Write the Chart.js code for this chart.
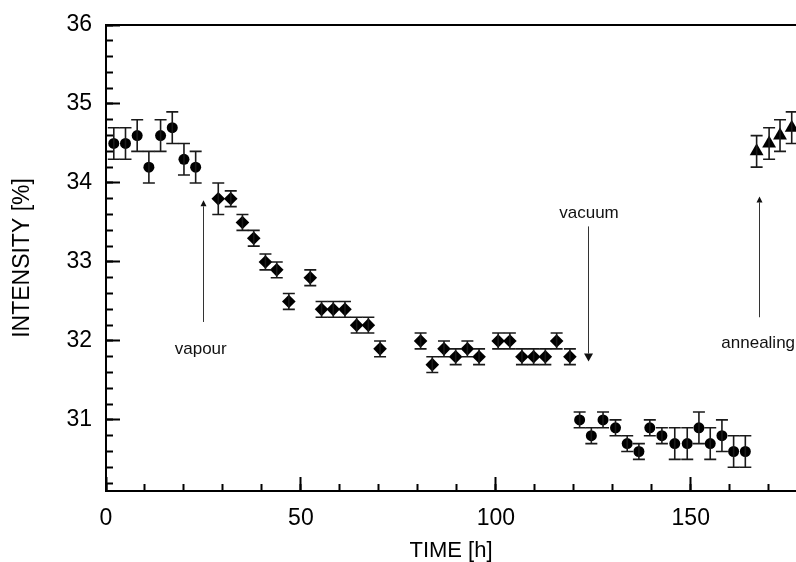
<!DOCTYPE html>
<html>
<head>
<meta charset="utf-8">
<title>Intensity vs time</title>
<script src="https://cdn.jsdelivr.net/npm/chart.js@4.4.1/dist/chart.umd.min.js"></script>
<style>
    html, body { margin: 0; padding: 0; background: #fff; }
    #grafik { display: block; }
</style>
</head>
<body>
<canvas id="grafik" width="796" height="562"></canvas>
<script>
// data: time [h], intensity [%], error (+/-)
const circleX1 = [2, 5, 8, 11, 14, 17, 20, 23];
const circleY1 = [34.5, 34.5, 34.6, 34.2, 34.6, 34.7, 34.3, 34.2];
const circleErr1 = [0.2, 0.2, 0.2, 0.2, 0.2, 0.2, 0.2, 0.2];

const diamondX = [28.8, 32, 35, 37.9, 40.9, 43.8, 46.9, 52.4, 55.3, 58.3, 61.3, 64.3, 67.3, 70.3,
    80.7, 83.7, 86.7, 89.7, 92.7, 95.7, 100.6, 103.6, 106.7, 109.7, 112.7, 115.6, 119];
const diamondY = [33.8, 33.8, 33.5, 33.3, 33.0, 32.9, 32.5, 32.8, 32.4, 32.4, 32.4, 32.2, 32.2, 31.9,
    32.0, 31.7, 31.9, 31.8, 31.9, 31.8, 32.0, 32.0, 31.8, 31.8, 31.8, 32.0, 31.8];
const diamondErr = [0.2, 0.1, 0.1, 0.1, 0.1, 0.1, 0.1, 0.1, 0.1, 0.1, 0.1, 0.1, 0.1, 0.1,
    0.1, 0.1, 0.1, 0.1, 0.1, 0.1, 0.1, 0.1, 0.1, 0.1, 0.1, 0.1, 0.1];

const circleX2 = [121.5, 124.5, 127.5, 130.7, 133.7, 136.7, 139.5, 142.6, 145.9, 149.1, 152.1, 155, 158, 161, 164];
const circleY2 = [31.0, 30.8, 31.0, 30.9, 30.7, 30.6, 30.9, 30.8, 30.7, 30.7, 30.9, 30.7, 30.8, 30.6, 30.6];
const circleErr2 = [0.1, 0.1, 0.1, 0.1, 0.1, 0.1, 0.1, 0.1, 0.2, 0.2, 0.2, 0.2, 0.2, 0.2, 0.2];

const triX = [166.9, 170.1, 172.9, 175.9];
const triY = [34.4, 34.5, 34.6, 34.7];
const triErr = [0.2, 0.2, 0.2, 0.2];

// arrows with their notes (in data units)
const noteText = ['vapour', 'vacuum', 'annealing'];
const noteArrowX = [24.8, 123.7, 167.5];
const noteArrowFrom = [32.24, 33.45, 32.3];
const noteArrowTo = [33.78, 31.74, 33.83];
const noteLabelX = [24.3, 123.9, 167.3];
const noteLabelY = [31.89, 33.61, 31.97];

const FONT = '"Liberation Sans", Arial, sans-serif';

function toPoints(xs, ys) {
    return xs.map((v, i) => ({ x: v, y: ys[i] }));
}

const errorLists = [circleErr1, diamondErr, circleErr2, triErr];

// vertical error bars with caps
const errorBars = {
    id: 'errorBars',
    afterDatasetsDraw(chart) {
        const { ctx, scales: { x, y } } = chart;
        ctx.save();
        ctx.strokeStyle = '#1a1a1a';
        ctx.lineWidth = 1.6;
        chart.data.datasets.forEach((ds, d) => {
            const errs = errorLists[d];
            ds.data.forEach((p, i) => {
                const px = x.getPixelForValue(p.x);
                const top = y.getPixelForValue(p.y + errs[i]);
                const bot = y.getPixelForValue(p.y - errs[i]);
                ctx.beginPath();
                ctx.moveTo(px, top); ctx.lineTo(px, bot);
                ctx.moveTo(px - 6, top); ctx.lineTo(px + 6, top);
                ctx.moveTo(px - 6, bot); ctx.lineTo(px + 6, bot);
                ctx.stroke();
            });
        });
        ctx.restore();
    }
};

// arrows + text notes
const headW = [6, 9, 6];
const headH = [6, 8, 6];
const notes = {
    id: 'notes',
    afterDatasetsDraw(chart) {
        const { ctx, scales: { x, y } } = chart;
        ctx.save();
        ctx.strokeStyle = '#333';
        ctx.fillStyle = '#111';
        ctx.lineWidth = 1;
        ctx.font = '17px ' + FONT;
        ctx.textAlign = 'center';
        ctx.textBaseline = 'middle';
        noteText.forEach((label, i) => {
            const px = Math.round(x.getPixelForValue(noteArrowX[i])) + 0.5;
            const y0 = y.getPixelForValue(noteArrowFrom[i]);
            const y1 = y.getPixelForValue(noteArrowTo[i]);
            const dir = y1 < y0 ? 1 : -1;
            ctx.beginPath();
            ctx.moveTo(px, y0);
            ctx.lineTo(px, y1 + dir * headH[i]);
            ctx.stroke();
            ctx.beginPath();
            ctx.moveTo(px, y1);
            ctx.lineTo(px - headW[i] / 2, y1 + dir * headH[i]);
            ctx.lineTo(px + headW[i] / 2, y1 + dir * headH[i]);
            ctx.closePath();
            ctx.fill();
            ctx.fillText(label, x.getPixelForValue(noteLabelX[i]), y.getPixelForValue(noteLabelY[i]));
        });
        ctx.restore();
    }
};

const X_MIN = 0, X_MAX = 177, Y_MIN = 30.1, Y_MAX = 36;

// fixed axis boxes, no extra label padding pushed into the layout
function fixBox(w, h) {
    return s => {
        if (w !== null) s.width = w;
        if (h !== null) s.height = h;
        s.paddingTop = 0; s.paddingBottom = 0;
        s.paddingLeft = 0; s.paddingRight = 0;
    };
}

const ctx = document.getElementById('grafik').getContext('2d');
const grafik = new Chart(ctx, {
    type: 'scatter',
    data: {
        datasets: [{
            label: 'before',
            data: toPoints(circleX1, circleY1),
            pointStyle: 'circle',
            pointRadius: 5.5,
            backgroundColor: '#000',
            borderColor: '#000',
            borderWidth: 0
        }, {
            label: 'vapour',
            data: toPoints(diamondX, diamondY),
            pointStyle: 'rectRot',
            pointRadius: 6.8,
            backgroundColor: '#000',
            borderColor: '#000',
            borderWidth: 0
        }, {
            label: 'vacuum',
            data: toPoints(circleX2, circleY2),
            pointStyle: 'circle',
            pointRadius: 5.5,
            backgroundColor: '#000',
            borderColor: '#000',
            borderWidth: 0
        }, {
            label: 'annealing',
            data: toPoints(triX, triY),
            pointStyle: 'triangle',
            pointRadius: 8,
            backgroundColor: '#000',
            borderColor: '#000',
            borderWidth: 0
        }]
    },
    options: {
        responsive: false,
        animation: false,
        devicePixelRatio: 1,
        layout: { autoPadding: false, padding: { top: 25, right: 0, bottom: 0, left: 0 } },
        plugins: {
            legend: { display: false },
            tooltip: { enabled: false }
        },
        scales: {
            x: {
                type: 'linear', axis: 'x', position: 'bottom', weight: 1,
                min: X_MIN, max: X_MAX,
                ticks: {
                    stepSize: 50, includeBounds: false, autoSkip: false, maxRotation: 0,
                    color: '#000', padding: 28, font: { family: FONT, size: 23 }
                },
                grid: { drawOnChartArea: false, tickLength: -14, tickWidth: 2, tickColor: '#000' },
                border: { display: true, color: '#000', width: 2 },
                title: {
                    display: true, text: 'TIME [h]', color: '#000',
                    font: { family: FONT, size: 22, lineHeight: 1 }, padding: { top: 0, bottom: 0 }
                },
                afterFit: fixBox(null, 71)
            },
            xMinor: {
                type: 'linear', axis: 'x', position: 'bottom', weight: 0,
                min: X_MIN, max: X_MAX,
                ticks: { display: false, stepSize: 10, includeBounds: false, autoSkip: false },
                grid: { drawOnChartArea: false, tickLength: -7, tickWidth: 2, tickColor: '#000' },
                border: { display: false },
                afterFit: fixBox(null, 0)
            },
            xTop: {
                type: 'linear', axis: 'x', position: 'top',
                min: X_MIN, max: X_MAX,
                ticks: { display: false },
                grid: { drawOnChartArea: false, drawTicks: false },
                border: { display: true, color: '#000', width: 2 },
                afterFit: fixBox(null, 0)
            },
            y: {
                type: 'linear', axis: 'y', position: 'left', weight: 1,
                min: Y_MIN, max: Y_MAX,
                ticks: {
                    stepSize: 1, includeBounds: false, autoSkip: false,
                    color: '#000', padding: 28, font: { family: FONT, size: 23 }
                },
                grid: { drawOnChartArea: false, tickLength: -14, tickWidth: 2, tickColor: '#000' },
                border: { display: true, color: '#000', width: 2 },
                title: {
                    display: true, text: 'INTENSITY [%]', color: '#000',
                    font: { family: FONT, size: 23, lineHeight: 1 }, padding: { top: 11, bottom: 0 }
                },
                afterFit: fixBox(106, null)
            },
            yMinor: {
                type: 'linear', axis: 'y', position: 'left', weight: 0,
                min: Y_MIN, max: Y_MAX,
                ticks: { display: false, stepSize: 0.2, includeBounds: false, autoSkip: false },
                grid: { drawOnChartArea: false, tickLength: -7, tickWidth: 2, tickColor: '#000' },
                border: { display: false },
                afterFit: fixBox(0, null)
            }
        }
    },
    plugins: [errorBars, notes]
});
</script>
</body>
</html>
